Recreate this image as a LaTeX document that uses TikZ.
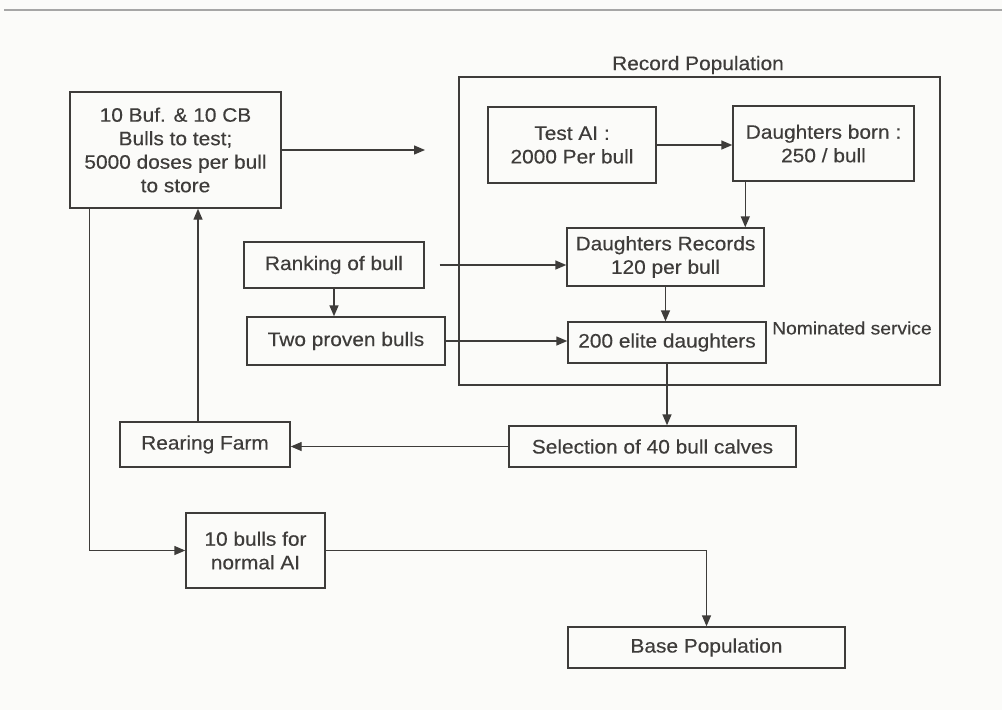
\documentclass[tikz,border=0pt]{standalone}
\usepackage{fontspec}
\setmainfont{Liberation Sans}[FakeStretch=1.07, FakeBold=0.35]
\usepackage{tikz}
\usetikzlibrary{arrows.meta, positioning}
\definecolor{ink}{RGB}{62,60,58}
\definecolor{paper}{RGB}{251,251,249}
\tikzset{%
	box/.style={draw=ink, rectangle, inner sep=0pt, align=center, text=ink, line width=1.4pt},
	frame/.style={draw=ink, rectangle, inner sep=0pt, line width=1.4pt},
	connector/.style={draw=ink, line width=1.4pt},
	sel/.style={connector, -{Triangle[length=11pt,width=9pt]}},
	textnode/.style={text=ink, inner sep=0pt}
}

\begin{document}
\begin{tikzpicture}[x=1pt, y=-1pt, font=\fontsize{19.5}{23.5}\selectfont]
	\fill[paper] (0,0) rectangle (1002,710);
	\useasboundingbox (0,0) rectangle (1002,710);
	\draw[gray!70, line width=1.2pt] (4,10) -- (1002,10);

	% record population
	\node[frame, minimum width=481pt, minimum height=308pt] (recpop) at (699.5,231) {};
	\node[textnode] (rectitle) at (698,65) {Record Population};
	\node[box, minimum width=168pt, minimum height=76pt] (testai) at (572,145) {Test AI :\\2000 Per bull};
	\node[box, minimum width=181pt, minimum height=75pt] (born) at (823.5,143.5) {Daughters born :\\250 / bull};
	\node[box, minimum width=197pt, minimum height=58pt] (records) at (665.5,257) {Daughters Records\\120 per bull};
	\node[box, minimum width=198pt, minimum height=41pt] (elite) at (667,342.5) {200 elite daughters};
	\node[textnode, anchor=west, font=\fontsize{18}{18}\selectfont] (nomin) at (772,328) {Nominated service};

	% bulls
	\node[box, minimum width=211pt, minimum height=116pt] (store) at (175.5,150) {10 Buf. \& 10 CB\\Bulls to test;\\5000 doses per bull\\to store};
	\node[box, minimum width=180pt, minimum height=46pt] (rank) at (334,265) {Ranking of bull};
	\node[box, minimum width=198pt, minimum height=48pt] (proven) at (346,341) {Two proven bulls};
	\node[box, minimum width=170pt, minimum height=45pt] (rearing) at (205,444.5) {Rearing Farm};
	\node[box, minimum width=287pt, minimum height=41pt] (select) at (652.5,446.5) {Selection of 40 bull calves};
	\node[box, minimum width=139pt, minimum height=75pt] (normal) at (255.5,550.5) {10 bulls for\\normal AI};
	\node[box, minimum width=277pt, minimum height=41pt] (base) at (706.5,647.5) {Base Population};
	\coordinate (storeout) at (425,150);

	\draw[sel] (store.east) -- (storeout);
	\draw[sel] (testai.east) -- (born.west |- testai.east);
	\draw[sel] ([xshift=13pt]born.south west) -- ([xshift=13pt]born.south west |- records.north);
	\draw[sel] (records.south) -- (records.south |- elite.north);
	\draw[sel, shorten <=15pt] (rank.east) -- (rank.east -| records.west);
	\draw[sel] (rank.south) -- (rank.south |- proven.north);
	\draw[sel] (proven.east) -- (proven.east -| elite.west);
	\draw[sel] (elite.south) -- (elite.south |- select.north);
	\draw[sel] (select.west) -- (select.west -| rearing.east);
	\draw[sel] ([xshift=-7pt]rearing.north) -- ([xshift=-7pt]rearing.north |- store.south);
	\draw[sel] ([xshift=20pt]store.south west) |- (normal.west);
	\draw[sel] (normal.east) -| (base.north);
\end{tikzpicture}
\end{document}
